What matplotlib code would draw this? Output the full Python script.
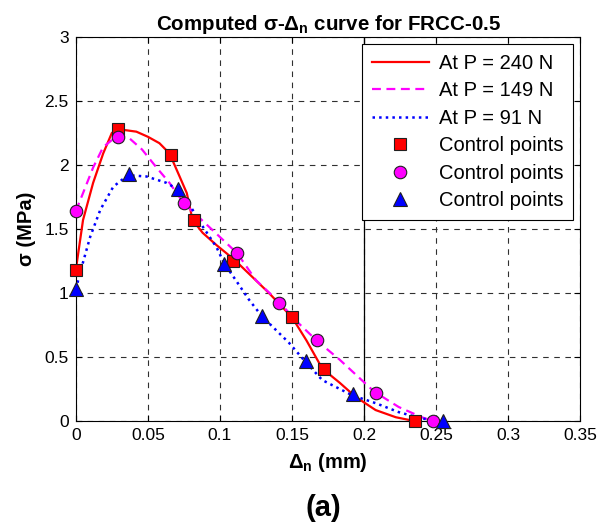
import numpy as np
import matplotlib
matplotlib.use('Agg')
import matplotlib.pyplot as plt

plt.rcParams['font.family'] = ['Liberation Sans', 'DejaVu Sans']
plt.rcParams['mathtext.fontset'] = 'custom'
plt.rcParams['mathtext.rm'] = 'Liberation Sans'
plt.rcParams['mathtext.bf'] = 'Liberation Sans:bold'

# control points
x240 = [0, 0.029, 0.066, 0.082, 0.109, 0.150, 0.172, 0.235]
y240 = [1.18, 2.28, 2.08, 1.57, 1.25, 0.81, 0.41, 0]
x149 = [0, 0.029, 0.075, 0.112, 0.141, 0.167, 0.208, 0.248]
y149 = [1.64, 2.22, 1.70, 1.31, 0.92, 0.63, 0.22, 0]
x91 = [0, 0.037, 0.071, 0.103, 0.129, 0.160, 0.192, 0.255]
y91 = [1.03, 1.93, 1.81, 1.23, 0.82, 0.47, 0.21, 0]

# curves
cx240 = [0, 0.005, 0.012, 0.019, 0.025, 0.029, 0.042, 0.050, 0.058, 0.065, 0.072,
         0.077, 0.081, 0.088, 0.0975, 0.110, 0.1225, 0.134, 0.150, 0.160, 0.171,
         0.183, 0.194, 0.208, 0.222, 0.235]
cy240 = [1.18, 1.57, 1.86, 2.09, 2.25, 2.28, 2.26, 2.22, 2.17, 2.09, 1.91,
         1.78, 1.57, 1.47, 1.375, 1.26, 1.125, 1.0, 0.81, 0.63, 0.41,
         0.30, 0.19, 0.086, 0.03, 0]
cx149 = [0, 0.005, 0.012, 0.019, 0.029, 0.037, 0.046, 0.056, 0.065, 0.075, 0.095,
         0.112, 0.125, 0.141, 0.154, 0.167, 0.183, 0.207, 0.224, 0.240, 0.248]
cy149 = [1.64, 1.78, 1.98, 2.14, 2.23, 2.21, 2.12, 1.98, 1.86, 1.70, 1.49,
         1.31, 1.10, 0.93, 0.77, 0.63, 0.48, 0.23, 0.11, 0.03, 0]
cx91 = [0, 0.004, 0.010, 0.017, 0.026, 0.036, 0.049, 0.063, 0.072, 0.081, 0.088,
        0.0975, 0.103, 0.111, 0.120, 0.129, 0.148, 0.158, 0.171, 0.192, 0.208,
        0.224, 0.240, 0.255]
cy91 = [1.03, 1.20, 1.44, 1.65, 1.83, 1.92, 1.91, 1.86, 1.80, 1.65, 1.52,
        1.36, 1.23, 1.10, 0.95, 0.82, 0.61, 0.48, 0.32, 0.20, 0.14,
        0.07, 0.02, 0]

xticks = [0, 0.05, 0.1, 0.15, 0.2, 0.25, 0.3, 0.35]
xticklabels = ['0', '0.05', '0.1', '0.15', '0.2', '0.25', '0.3', '0.35']
yticks = [0, 0.5, 1, 1.5, 2, 2.5, 3]
yticklabels = ['0', '0.5', '1', '1.5', '2', '2.5', '3']

fig = plt.figure(figsize=(5.97, 5.27), dpi=100)
ax = fig.add_axes([0.127, 0.201, 0.845, 0.729])

ax.plot(cx240, cy240, '-', color='#ff0000', lw=1.6, label='At P = 240 N')
ax.plot(cx149, cy149, '--', color='#ff00ff', lw=1.6, dashes=(4, 2.5), label='At P = 149 N')
ax.plot(cx91, cy91, ':', color='#0000ff', lw=1.8, label='At P = 91 N')
ax.plot(x240, y240, 's', color='#ff0000', mec='#202020', mew=0.8, ms=9,
        clip_on=False, zorder=3, label='Control points')
ax.plot(x149, y149, 'o', color='#ff00ff', mec='#202020', mew=0.8, ms=9,
        clip_on=False, zorder=3, label='Control points')
ax.plot(x91, y91, '^', color='#0000ff', mec='#202020', mew=0.8, ms=10,
        clip_on=False, zorder=3, label='Control points')

ax.axvline(0.2, color='black', lw=0.9, zorder=1)

ax.set_xlim(0, 0.35)
ax.set_ylim(0, 3)
ax.set_xticks(xticks)
ax.set_xticklabels(xticklabels)
ax.set_yticks(yticks)
ax.set_yticklabels(yticklabels)
ax.tick_params(direction='in', top=True, right=True, labelsize=12.5, length=4, pad=5)
ax.grid(True, linestyle=(0, (5, 5)), color='#303030', lw=0.8)
ax.set_axisbelow(True)

ax.set_title('Computed σ-Δ$_\\mathbf{n}$ curve for FRCC-0.5', fontsize=14.8, fontweight='bold', pad=5)
ax.set_xlabel('Δ$_\\mathbf{n}$ (mm)', fontsize=14.5, fontweight='bold', labelpad=6)
ax.set_ylabel('σ (MPa)', fontsize=14.5, fontweight='bold', labelpad=6)

leg = ax.legend(loc='upper right', fontsize=14.5, fancybox=False, edgecolor='black',
                framealpha=1, borderaxespad=0.35, handlelength=2.8, labelspacing=0.42,
                handletextpad=0.5, borderpad=0.5)
leg.get_frame().set_linewidth(0.8)

fig.text(0.542, 0.037, '(a)', fontsize=21, fontweight='bold', ha='center', va='center')

fig.savefig('out.png', dpi=100)
